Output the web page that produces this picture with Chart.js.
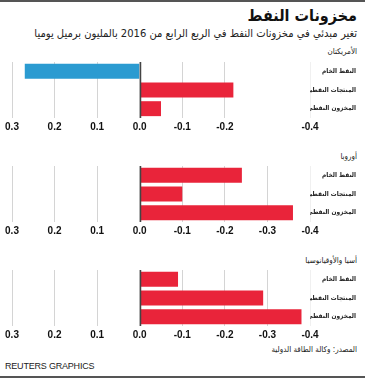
<!DOCTYPE html>
<html>
<head>
<meta charset="utf-8">
<script src="https://cdn.jsdelivr.net/npm/chart.js@4.4.1/dist/chart.umd.min.js"></script>
<style>
  html, body { margin: 0; padding: 0; background: #fff; }
  #wrap { position: relative; width: 365px; height: 378px; overflow: hidden; background: #fff; }
  .ar { position: absolute; right: 8px; direction: rtl; font-family: 'DejaVu Sans Condensed', 'DejaVu Sans', sans-serif; color: #222; white-space: nowrap; }
  #title  { top: 6px;  font-size: 16px; font-weight: bold; color: #111; }
  #sub    { top: 27px; font-size: 11.1px; }
  .reg    { font-size: 8px; }
  #src    { top: 345px; font-size: 8px; }
  #brand  { position: absolute; left: 5px; top: 361px; font-family: 'Liberation Sans Narrow', 'Liberation Sans', sans-serif;
            font-size: 9px; color: #222; letter-spacing: -0.2px; }
  #head   { position: absolute; left: 0; right: 0; top: 0; height: 2px; background: #555; }
  #foot   { position: absolute; left: 0; right: 0; bottom: 0; height: 2px; background: #555; }
  canvas.pnl { position: absolute; left: 0; }
</style>
</head>
<body>
<div id="wrap">
  <div id="head"></div>
  <div id="title" class="ar">مخزونات النفط</div>
  <div id="sub" class="ar">تغير مبدئي في مخزونات النفط في الربع الرابع من 2016 بالمليون برميل يوميا</div>
  <div class="ar reg" style="top:47px">الأمريكتان</div>
  <div class="ar reg" style="top:152px">أوروبا</div>
  <div class="ar reg" style="top:256px">أسيا والأوقيانوسيا</div>
  <canvas id="c1" class="pnl" width="365" height="76" style="top:58px"></canvas>
  <canvas id="c2" class="pnl" width="365" height="76" style="top:162px"></canvas>
  <canvas id="c3" class="pnl" width="365" height="76" style="top:266px"></canvas>
  <div id="src" class="ar">المصدر: وكالة الطاقة الدولية</div>
  <div id="brand">REUTERS GRAPHICS</div>
  <div id="foot"></div>
</div>

<script>
// ── Data ──
const categories  = ['النفط الخام', 'المنتجات النفطية', 'المخزون النفطي'];
const americas    = [0.27, -0.22, -0.05];
const europe      = [-0.24, -0.10, -0.36];
const asiaOceania = [-0.09, -0.29, -0.38];
const xTicks      = [0.3, 0.2, 0.1, 0.0, -0.1, -0.2, -0.3, -0.4];

const BLUE = '#2b9bd1';
const RED  = '#e9243a';

const near = (a, b) => Math.abs(a - b) < 1e-9;

// zero line drawn over the bars
const zeroLine = {
  id: 'zeroLine',
  afterDatasetsDraw(chart) {
    const { ctx, chartArea: a, scales: { x } } = chart;
    const px = Math.round(x.getPixelForValue(0)) + 0.5;
    ctx.save();
    ctx.strokeStyle = '#444';
    ctx.lineWidth = 1.5;
    ctx.beginPath();
    ctx.moveTo(px, a.top);
    ctx.lineTo(px, a.bottom);
    ctx.stroke();
    ctx.restore();
  }
};

function makePanel(id, values, hideTick) {
  return new Chart(document.getElementById(id), {
    type: 'bar',
    data: {
      labels: categories,
      datasets: [{
        data: values,
        backgroundColor: ctx => (ctx.raw >= 0 ? BLUE : RED),
        barPercentage: 0.8,
        categoryPercentage: 1,
        borderWidth: 0,
      }],
    },
    options: {
      indexAxis: 'y',
      responsive: false,
      animation: false,
      events: [],
      layout: { padding: { top: 4, left: 12, right: 9, bottom: 0 } },
      plugins: { legend: { display: false }, tooltip: { enabled: false } },
      scales: {
        x: {
          min: -0.4, max: 0.3, reverse: true,
          afterBuildTicks: s => { s.ticks = xTicks.map(v => ({ value: v })); },
          afterFit: s => { s.height = 16; },
          border: { display: false },
          grid: {
            drawTicks: false,
            lineWidth: 1,
            color: c => {
              const v = c.tick.value;
              if (hideTick !== undefined && near(v, hideTick)) return 'rgba(0,0,0,0)';
              if (near(v, -0.4)) return '#f0f0f0';
              return '#d4d4d4';
            },
          },
          ticks: {
            padding: 3,
            color: '#111',
            font: { family: 'Liberation Sans', size: 10, weight: 'bold' },
            callback: v => (hideTick !== undefined && near(v, hideTick)) ? '' : (near(v, 0) ? '0.0' : v.toFixed(1)),
          },
        },
        y: {
          position: 'right',
          afterFit: s => { s.width = 46; },
          border: { display: false },
          grid: { display: false },
          ticks: {
            padding: 0,
            crossAlign: 'far',
            color: '#222',
            font: { family: "'DejaVu Sans Condensed', 'DejaVu Sans'", size: 6.5, weight: 'bold' },
          },
        },
      },
    },
    plugins: [zeroLine],
  });
}

makePanel('c1', americas, -0.3);
makePanel('c2', europe);
makePanel('c3', asiaOceania);
</script>
</body>
</html>
